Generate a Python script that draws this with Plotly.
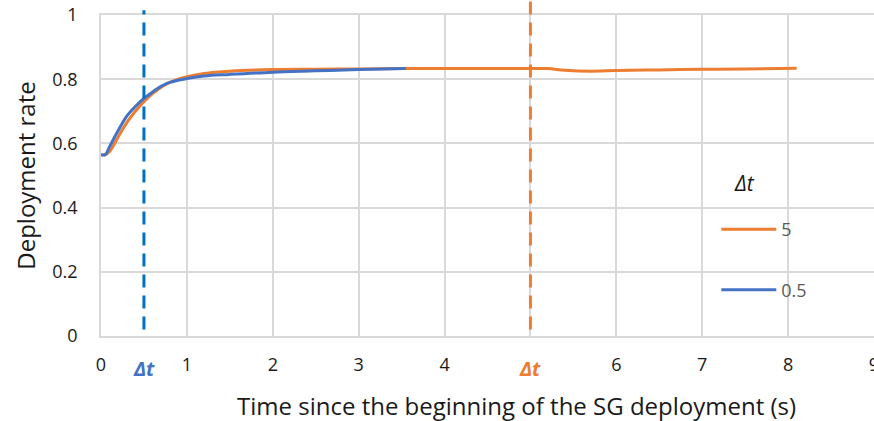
import plotly.graph_objects as go

# Series: delta t = 5
x_dt5 = [0, 0.05, 0.1, 0.2, 0.3, 0.4, 0.5, 0.6, 0.7, 0.8, 0.9, 1.0, 1.2, 1.5, 2.0, 2.5, 3.0, 3.5, 4.0, 4.5, 5.0, 5.2, 5.4, 5.7, 6.0, 6.5, 7.0, 7.5, 8.1]
y_dt5 = [0.565, 0.565, 0.575, 0.62, 0.665, 0.70, 0.73, 0.755, 0.775, 0.79, 0.80, 0.808, 0.818, 0.825, 0.83, 0.831, 0.832, 0.833, 0.833, 0.833, 0.833, 0.833, 0.828, 0.825, 0.827, 0.829, 0.831, 0.832, 0.834]

# Series: delta t = 0.5
x_dt05 = [0, 0.05, 0.1, 0.2, 0.3, 0.4, 0.5, 0.6, 0.7, 0.8, 1.0, 1.2, 1.5, 2.0, 2.5, 3.0, 3.55]
y_dt05 = [0.565, 0.565, 0.59, 0.64, 0.685, 0.715, 0.74, 0.76, 0.778, 0.79, 0.802, 0.81, 0.815, 0.822, 0.826, 0.83, 0.833]

series_names = ["5", "0.5"]
legend_title = "<i>Δt</i>"
dt_markers = [0.5, 5]

x_tickvals = [0, 1, 2, 3, 4, 5, 6, 7, 8, 9]
x_ticktext = ["0", "1", "2", "3", "4", "", "6", "7", "8", "9"]
y_tickvals = [0, 0.2, 0.4, 0.6, 0.8, 1]
y_ticktext = ["0", "0.2", "0.4", "0.6", "0.8", "1"]

x_title = "Time since the beginning of the SG deployment (s)"
y_title = "Deployment rate"

ORANGE = "#ED7D31"
BLUE = "#4472C4"
DASH_BLUE = "#0070C0"
GRID = "#D9D9D9"
FONT = "Open Sans"
TXT = "#1a1a1a"

fig = go.Figure()
fig.add_trace(go.Scatter(x=x_dt5, y=y_dt5, mode="lines", name=series_names[0],
                         line=dict(color=ORANGE, width=3, shape="spline"),
                         legendgroup="a"))
fig.add_trace(go.Scatter(x=x_dt05, y=y_dt05, mode="lines", name=series_names[1],
                         line=dict(color=BLUE, width=3, shape="spline"),
                         legendgroup="b"))

# dashed vertical markers
fig.add_shape(type="line", xref="x", yref="paper", x0=dt_markers[0], x1=dt_markers[0],
              y0=0.02, y1=1.015, line=dict(color=DASH_BLUE, width=3, dash="13px,8px"))
fig.add_shape(type="line", xref="x", yref="paper", x0=dt_markers[1], x1=dt_markers[1],
              y0=0.02, y1=1.047, line=dict(color=ORANGE, width=3, dash="13px,8px"))

fig.add_annotation(x=dt_markers[0], xref="x", y=-0.1, yref="paper", yanchor="middle",
                   text="<b><i>Δt</i></b>", showarrow=False,
                   font=dict(family=FONT, size=20, color=BLUE))
fig.add_annotation(x=dt_markers[1], xref="x", y=-0.1, yref="paper", yanchor="middle",
                   text="<b><i>Δt</i></b>", showarrow=False,
                   font=dict(family=FONT, size=20, color=ORANGE))

# x-axis title (offset to the right as in the reference)
fig.add_annotation(x=0.537, xref="paper", y=-0.218, yref="paper", yanchor="middle",
                   xanchor="center", text=x_title, showarrow=False,
                   font=dict(family=FONT, size=24, color=TXT))

# legend title
fig.add_annotation(x=0.832, xref="paper", y=0.477, yref="paper", yanchor="middle",
                   xanchor="center", text=legend_title, showarrow=False,
                   font=dict(family=FONT, size=21, color=TXT))

fig.update_layout(
    width=874, height=421,
    margin=dict(l=101, r=0, t=15, b=85, autoexpand=False),
    paper_bgcolor="white", plot_bgcolor="white",
    font=dict(family=FONT, size=18, color=TXT),
    showlegend=True,
    legend=dict(
        x=0.796, y=0.389, xanchor="left", yanchor="top",
        bgcolor="rgba(0,0,0,0)",
        font=dict(family=FONT, size=18, color="#595959"),
        traceorder="grouped", tracegroupgap=34,
        itemwidth=55,
    ),
    xaxis=dict(range=[0, 9], tickvals=x_tickvals, ticktext=x_ticktext,
               showgrid=True, gridcolor=GRID, gridwidth=1.5,
               showline=True, linecolor=GRID, linewidth=1.5, mirror=True,
               zeroline=False, ticks="", ticklabelstandoff=12,
               ticklabeloverflow="allow",
               tickfont=dict(size=18, color=TXT)),
    yaxis=dict(range=[0, 1], tickvals=y_tickvals, ticktext=y_ticktext,
               showgrid=True, gridcolor=GRID, gridwidth=1.5,
               showline=True, linecolor=GRID, linewidth=1.5,
               zeroline=False, ticks="", ticklabelstandoff=18,
               tickfont=dict(size=18, color=TXT),
               title=dict(text=y_title, font=dict(size=24, color=TXT), standoff=10)),
)

fig.write_html(
    "out.html",
    config={"displayModeBar": False},
    post_script="document.body.style.margin='0';document.body.style.overflow='hidden';",
)
